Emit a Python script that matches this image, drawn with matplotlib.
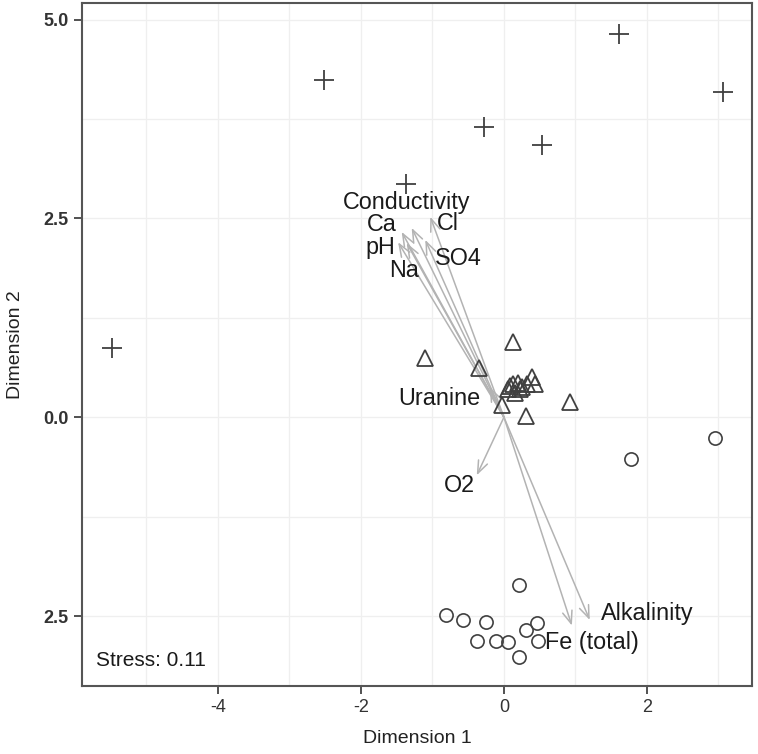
import matplotlib
matplotlib.use('Agg')
import matplotlib.pyplot as plt

plt.rcParams['font.family'] = ['Liberation Sans', 'DejaVu Sans']

# site scores, three groups
plus_x = [-5.48, -2.52, -0.28, 0.53, -1.37, 1.61, 3.06]
plus_y = [0.87, 4.24, 3.65, 3.42, 2.93, 4.82, 4.09]

tri_x = [-1.10, 0.13, -0.35, 0.08, 0.13, 0.19, 0.25, 0.32, 0.39, 0.43, 0.15, 0.06, 0.22, -0.03, 0.31, 0.92]
tri_y = [0.74, 0.94, 0.62, 0.39, 0.42, 0.43, 0.38, 0.42, 0.51, 0.42, 0.30, 0.36, 0.36, 0.15, 0.01, 0.19]

circ_x = [0.21, -0.81, -0.57, -0.25, -0.38, -0.11, 0.06, 0.31, 0.46, 0.48, 0.21, 1.78, 2.95]
circ_y = [-2.11, -2.49, -2.55, -2.58, -2.82, -2.82, -2.83, -2.67, -2.59, -2.82, -3.01, -0.52, -0.26]

# fitted environmental vectors
env_names = ['Conductivity', 'Ca', 'Cl', 'pH', 'Na', 'SO4', 'Uranine', 'O2', 'Alkalinity', 'Fe (total)']
env_x = [-1.29, -1.43, -1.03, -1.48, -1.36, -1.10, -0.20, -0.38, 1.20, 0.95]
env_y = [2.38, 2.33, 2.52, 2.20, 2.19, 2.23, 0.38, -0.73, -2.55, -2.62]
label_x = [-1.36, -1.71, -0.78, -1.73, -1.40, -0.64, -0.90, -0.62, 2.00, 1.23]
label_y = [2.70, 2.42, 2.43, 2.13, 1.85, 1.99, 0.24, -0.86, -2.47, -2.83]

stress = 0.11

fig = plt.figure(figsize=(7.58, 7.54), dpi=100)
ax = fig.add_axes([0.1082, 0.0902, 0.884, 0.906])

for x in [-5, -4, -3, -2, -1, 0, 1, 2, 3]:
    ax.axvline(x, color='#efefef', lw=0.9, zorder=0)
for y in [-2.5, -1.25, 0, 1.25, 2.5, 3.75, 5.0]:
    ax.axhline(y, color='#efefef', lw=0.9, zorder=0)

for ex, ey in zip(env_x, env_y):
    ax.annotate('', xy=(ex, ey), xytext=(0, 0),
                arrowprops=dict(arrowstyle='->,head_length=0.9,head_width=0.35',
                                color='#b3b3b3', lw=1.1, shrinkA=0, shrinkB=0),
                zorder=2)

ax.plot(plus_x, plus_y, linestyle='none', marker='+', ms=14, mew=1.3, color='#404040', zorder=3)
ax.plot(tri_x, tri_y, linestyle='none', marker='^', ms=12, mew=1.3, mfc='none', mec='#404040', zorder=3)
ax.plot(circ_x, circ_y, linestyle='none', marker='o', ms=9.5, mew=1.2, mfc='none', mec='#404040', zorder=3)

for name, lx, ly in zip(env_names, label_x, label_y):
    ax.text(lx, ly, name, ha='center', va='center', fontsize=16.8, color='#1a1a1a', zorder=4)

ax.text(-5.70, -3.06, 'Stress: %.2f' % stress, ha='left', va='center', fontsize=15, color='#1a1a1a')

ax.set_xlim(-5.90, 3.47)
ax.set_ylim(-3.38, 5.21)
ax.set_xticks([-4, -2, 0, 2])
ax.set_xticklabels(['-4', '-2', '0', '2'])
ax.set_yticks([-2.5, 0, 2.5, 5.0])
ax.set_yticklabels(['2.5', '0.0', '2.5', '5.0'], fontweight='bold')
ax.tick_params(axis='both', direction='out', length=6, width=1.2, color='#333333',
               labelsize=13, labelcolor='#333333')
for s in ax.spines.values():
    s.set_color('#555555')
    s.set_linewidth(1.5)

ax.set_xlabel('Dimension 1', fontsize=14, color='#222222', labelpad=10)
ax.set_ylabel('Dimension 2', fontsize=14, color='#222222', labelpad=14)

fig.savefig('out.png', dpi=100)
